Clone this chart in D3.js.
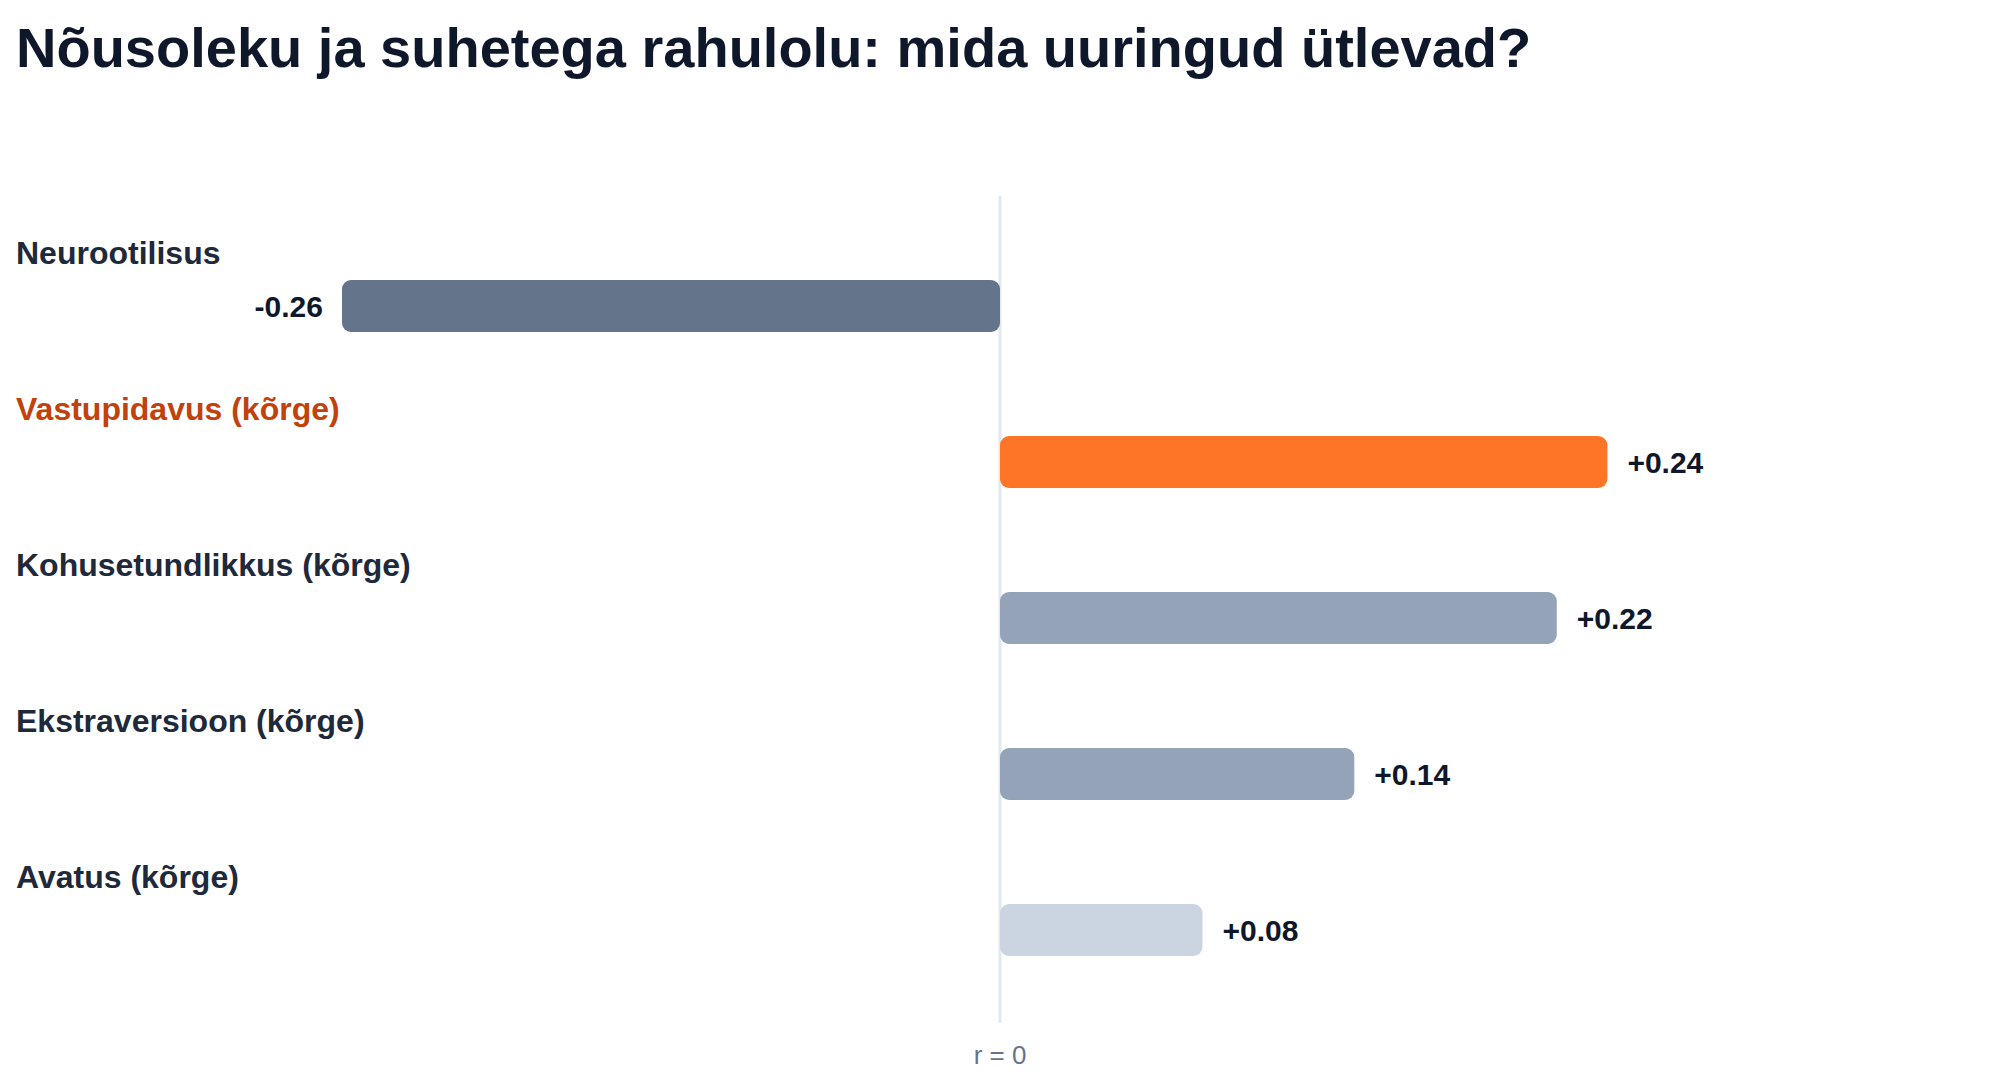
<!DOCTYPE html>
<html>
<head>
<meta charset="utf-8">
<script src="https://cdn.jsdelivr.net/npm/d3@7"></script>
<style>
body { margin: 0; background: #fff; }
svg { display: block; font-family: "Liberation Sans", Arial, Helvetica, sans-serif; }
</style>
</head>
<body>
<svg width="2000" height="1080"></svg>
<script>
let title = "Nõusoleku ja suhetega rahulolu: mida uuringud ütlevad?"
let categories = ["Neurootilisus", "Vastupidavus (kõrge)", "Kohusetundlikkus (kõrge)", "Ekstraversioon (kõrge)", "Avatus (kõrge)"]
let values = [-0.26, 0.24, 0.22, 0.14, 0.08]
let valueLabels = ["-0.26", "+0.24", "+0.22", "+0.14", "+0.08"]
let highlight = "Vastupidavus (kõrge)"
let zeroLabel = "r = 0"

let barColors = ["#64748b", "#ff7527", "#94a3b8", "#94a3b8", "#cbd5e1"]

let svg = d3.select("svg")

svg.append("text")
    .attr("x", 16)
    .attr("y", 67)
    .attr("font-size", 56)
    .attr("font-weight", "bold")
    .attr("fill", "#0f172a")
    .text(title)

let x = d3.scaleLinear().domain([-0.26, 0.26]).range([342, 1658])
let y = d3.scaleBand().domain(categories).range([228, 1008])

// zero line
svg.append("line")
    .attr("x1", x(0)).attr("x2", x(0))
    .attr("y1", 196).attr("y2", 1023)
    .attr("stroke", "#e2e8f0")
    .attr("stroke-width", 3)

svg.append("text")
    .attr("x", x(0))
    .attr("y", 1064)
    .attr("text-anchor", "middle")
    .attr("font-size", 26)
    .attr("fill", "#64748b")
    .text(zeroLabel)

let rows = svg.selectAll("g.row")
    .data(categories)
    .join("g")
    .attr("class", "row")
    .attr("transform", d => "translate(0," + y(d) + ")")

rows.append("text")
    .attr("x", 16)
    .attr("y", 36)
    .attr("font-size", 32)
    .attr("font-weight", "bold")
    .attr("fill", d => d == highlight ? "#c2410c" : "#1e293b")
    .text(d => d)

rows.append("rect")
    .attr("x", (d, i) => Math.min(x(0), x(values[i])))
    .attr("y", 52)
    .attr("width", (d, i) => Math.abs(x(values[i]) - x(0)))
    .attr("height", 52)
    .attr("rx", 9)
    .attr("fill", (d, i) => barColors[i])

rows.append("text")
    .attr("x", (d, i) => values[i] < 0 ? x(values[i]) - 19 : x(values[i]) + 20)
    .attr("y", 78)
    .attr("dy", "0.36em")
    .attr("text-anchor", (d, i) => values[i] < 0 ? "end" : "start")
    .attr("font-size", 30)
    .attr("font-weight", "bold")
    .attr("fill", "#0f172a")
    .text((d, i) => valueLabels[i])
</script>
</body>
</html>
